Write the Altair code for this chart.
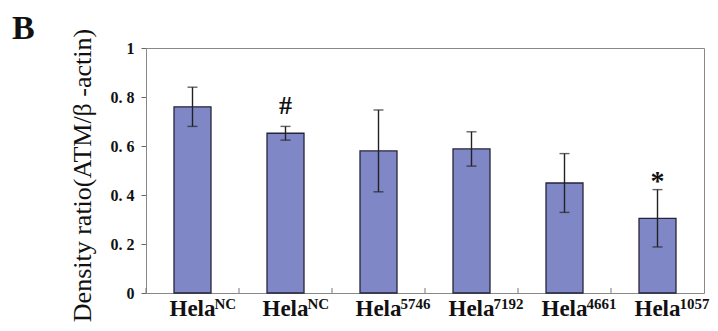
import altair as alt
import pandas as pd

groups = ["g1", "g2", "g3", "g4", "g5", "g6"]
main_labels = ["Hela", "Hela", "Hela", "Hela", "Hela", "Hela"]
sup_labels = ["NC", "NC", "5746", "7192", "4661", "1057"]
means = [0.760, 0.652, 0.580, 0.588, 0.449, 0.305]
errors = [0.080, 0.028, 0.167, 0.070, 0.120, 0.117]
signs = ["", "#", "", "", "", "*"]

df = pd.DataFrame({
    "grp": groups,
    "main": main_labels,
    "sup": sup_labels,
    "mean": means,
    "lo": [m - e for m, e in zip(means, errors)],
    "hi": [m + e for m, e in zip(means, errors)],
    "sign": signs,
})

W, H = 558, 245
SERIF = "Liberation Serif"

x = alt.X("grp:N", sort=groups, axis=None,
          scale=alt.Scale(paddingInner=0, paddingOuter=0))
yscale = alt.Scale(domain=[0, 1], nice=False)

base = alt.Chart(df)

bars = base.mark_bar(size=37, fill="#7f87c6", stroke="#25253a", strokeWidth=1.3).encode(
    x=x,
    y=alt.Y("mean:Q", scale=yscale,
            axis=alt.Axis(values=[0, 0.2, 0.4, 0.6, 0.8, 1.0], format=".1~f",
                          labelExpr="datum.value == 0 || datum.value == 1 ? datum.label : replace(datum.label, '.', '. ')",
                          grid=False, tickSize=5, tickColor="#666", domainColor="#888",
                          labelFont=SERIF, labelFontSize=16, labelFontWeight="bold",
                          labelColor="#111", labelPadding=7,
                          title="Density ratio(ATM/β -actin)", titleFont=SERIF,
                          titleFontSize=26, titleFontWeight="normal", titleColor="#111",
                          titleAngle=270, titleAlign="center", titleBaseline="alphabetic",
                          titleX=-56, titleY=127)),
)

err = base.mark_rule(color="#222", strokeWidth=1.4).encode(
    x=x, y=alt.Y("lo:Q", scale=yscale), y2="hi:Q")
cap_hi = base.mark_tick(color="#222", size=10, thickness=1.4).encode(
    x=x, y=alt.Y("hi:Q", scale=yscale))
cap_lo = base.mark_tick(color="#222", size=10, thickness=1.4).encode(
    x=x, y=alt.Y("lo:Q", scale=yscale))

xticks = base.mark_rule(color="#777", strokeWidth=1).encode(
    x=alt.X("grp:N", sort=groups, axis=None, bandPosition=0,
            scale=alt.Scale(paddingInner=0, paddingOuter=0)),
    y=alt.value(H), y2=alt.value(H - 5))

hash_txt = base.transform_filter("datum.sign == '#'").mark_text(
    font=SERIF, fontSize=26, fontWeight="bold", color="#111", baseline="alphabetic", dy=-12
).encode(x=x, y=alt.Y("hi:Q", scale=yscale), text="sign:N")
star_txt = base.transform_filter("datum.sign == '*'").mark_text(
    font=SERIF, fontSize=28, fontWeight="bold", color="#111", baseline="alphabetic", dy=0
).encode(x=x, y=alt.Y("hi:Q", scale=yscale), text="sign:N")

lab_main = base.mark_text(font=SERIF, fontSize=23, fontWeight="bold", color="#111",
                          align="center", baseline="alphabetic").encode(
    x=x, y=alt.value(268), text="main:N")
lab_sup = base.mark_text(font=SERIF, fontSize=15, fontWeight="bold", color="#111",
                         align="left", baseline="alphabetic", dx=22).encode(
    x=x, y=alt.value(261), text="sup:N")

panel = alt.Chart(pd.DataFrame({"t": ["B"]})).mark_text(
    font=SERIF, fontSize=34, fontWeight="bold", color="#111",
    align="left", baseline="alphabetic").encode(
    x=alt.value(-134), y=alt.value(-9), text="t:N")

chart = alt.layer(bars, err, cap_hi, cap_lo, xticks, hash_txt, star_txt,
                  lab_main, lab_sup, panel).properties(
    width=W, height=H,
    autosize=alt.AutoSizeParams(type="none"),
    padding={"left": 138, "top": 40, "right": 6, "bottom": 30},
    background="white",
).configure_view(stroke="#888", strokeWidth=1)

chart.save("out.html", embed_options={"renderer": "svg", "actions": False})
